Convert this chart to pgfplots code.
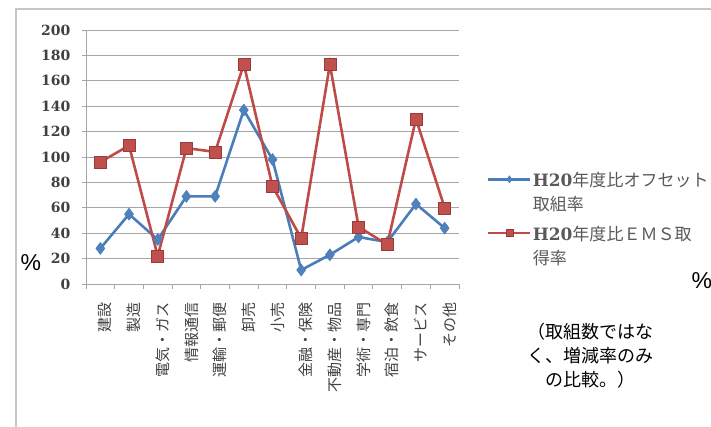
\documentclass[border=0pt]{standalone}
\usepackage{fontspec}
\usepackage{pgfplots}
\pgfplotsset{compat=1.18}
\setmainfont{Liberation Sans}
\newfontfamily\jp{Noto Sans CJK JP}
\newfontfamily\numfont{DejaVu Serif}

\definecolor{offblue}{HTML}{4A7EBB}
\definecolor{offbluefill}{HTML}{4F81BD}
\definecolor{emsred}{HTML}{BE4B48}
\definecolor{emsredfill}{HTML}{C0504D}
\definecolor{gridgray}{HTML}{A6A6A6}
\definecolor{labelgray}{HTML}{404040}
\definecolor{legendgray}{HTML}{595959}

% rate vs. FY2008, per industry (%)
\pgfplotstableread{
idx offset ems
0   28  96
1   55  109
2   35  22
3   69  107
4   69  104
5   137 173
6   98  77
7   11  36
8   23  173
9   37  45
10  33  31
11  63  130
12  44  60
}\ratetable

\begin{document}
\begin{tikzpicture}[x=1pt,y=1pt]
\path[use as bounding box] (0,0) rectangle (711,426);
% chart area frame
\draw[gray!45, line width=2pt] (16,-10) -- (16,417) -- (730,417);

\begin{axis}[
  at={(86pt,142pt)}, anchor=south west,
  scale only axis, width=373pt, height=254pt,
  xmin=-0.5, xmax=12.5, ymin=0, ymax=200,
  axis x line*=bottom, axis y line*=left,
  axis line style={gridgray, line width=0.9pt},
  xtick={0,...,12},
  xticklabels={建設,製造,電気・ガス,情報通信,運輸・郵便,卸売,小売,金融・保険,不動産・物品,学術・専門,宿泊・飲食,サービス,その他},
  major x tick style={draw=none},
  minor xtick={-0.5,0.5,...,12.5},
  minor x tick style={gridgray, line width=0.9pt},
  tick align=outside,
  major tick length=4pt, minor tick length=5pt,
  ytick={0,20,...,200},
  yticklabels={0,20,40,60,80,100,120,140,160,180,200},
  y tick style={gridgray, line width=0.9pt},
  ymajorgrids, grid style={gridgray, line width=0.9pt},
  % labels are rotated, so xshift moves them down and yshift sideways
  xticklabel style={rotate=90, anchor=east, xshift=-11pt, yshift=-5pt,
    font=\jp\fontsize{15}{15}\selectfont, text=labelgray},
  yticklabel style={font=\numfont\bfseries\fontsize{14}{14}\selectfont,
    text=labelgray, xshift=-8pt},
  clip=false,
  legend style={draw=none, fill=none, inner sep=0pt,
    at={(axis description cs:1.075,0.444)}, anchor=north west,
    legend cell align=left, row sep=12pt,
    nodes={align=left, inner sep=1pt, text=legendgray,
      font=\jp\fontsize{17}{24}\selectfont}},
  legend image code/.code={
    \draw[mark repeat=2, mark phase=2, #1, mark size=3.5pt, yshift=13pt]
      plot coordinates {(0pt,0pt) (21pt,0pt) (42pt,0pt)};},
]
\addplot[offblue, line width=2.6pt, mark=diamond*, mark size=6pt,
  mark options={fill=offbluefill, draw=offblue, line width=0.5pt}]
  table[x=idx, y=offset] {\ratetable};
\addlegendentry{{\numfont\bfseries H20}年度比オフセット\\取組率}
\addplot[emsred, line width=2.6pt, mark=square*, mark size=6pt,
  mark options={fill=emsredfill, draw=emsred!80!black, line width=0.5pt}]
  table[x=idx, y=ems] {\ratetable};
\addlegendentry{{\numfont\bfseries H20}年度比ＥＭＳ取\\得率}
\end{axis}

% unit labels and note
\node[font=\fontsize{23}{23}\selectfont, anchor=west] at (17,163) {\%};
\node[font=\fontsize{23}{23}\selectfont, anchor=west] at (688,145) {\%};
\node[font=\jp\fontsize{18}{24}\selectfont, align=center] at (590,70)
  {（取組数ではな\\く、増減率のみ\\の比較。）};
\end{tikzpicture}
\end{document}
